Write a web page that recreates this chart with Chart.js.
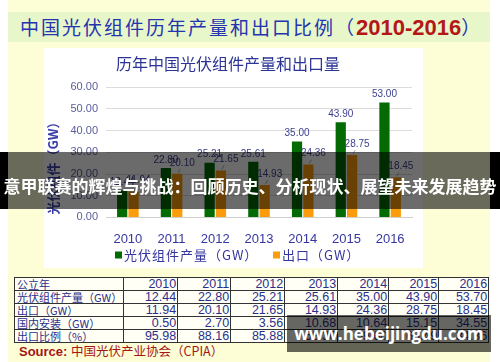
<!DOCTYPE html>
<html>
<head>
<meta charset="utf-8">
<script src="https://cdn.jsdelivr.net/npm/chart.js@4/dist/chart.umd.min.js"></script>
<style>
  body { margin: 0; width: 500px; height: 362px; overflow: hidden; background: #fff; position: relative; font-family: "Liberation Sans", Arial, sans-serif; }
  .abs { position: absolute; }
  #bg { left: 8px; top: 0; width: 482px; height: 362px; background: #fdfdd6; }
  #titlebar { left: 8px; top: 12px; width: 482px; height: 30px; background: #e8f7c9; }
  #titlebar span.cn { position: absolute; left: 12px; top: 0; line-height: 30px; font-family: "Noto Sans CJK SC"; font-size: 19px; letter-spacing: 2px; color: #2433b0; white-space: nowrap; }
  #titlebar b { font-family: "Liberation Sans", Arial; font-size: 22px; color: #b31717; letter-spacing: 0; }
  #panel { left: 44px; top: 48px; width: 379px; height: 220px; background: #fff; }
  #tbl { left: 14px; top: 277px; border-collapse: collapse; background: #fffff6; table-layout: fixed; }
  #tbl tr { height: 13px; }
  #tbl td { border: 1px solid #333; height: 12px; padding: 0 1px 0 2px; font-size: 12.5px; line-height: 11px; color: #2b2f8c; text-align: right; white-space: nowrap; overflow: hidden; box-sizing: border-box; }
  #tbl td.lab { text-align: left; font-family: "Noto Sans CJK SC"; font-size: 11px; letter-spacing: 0; }
  #source { left: 19px; top: 341px; font-size: 13px; font-weight: bold; color: #a51616; white-space: nowrap; }
  #source span { font-family: "Noto Sans CJK SC"; font-weight: normal; font-size: 12.5px; }
  #banner { left: 0; top: 152px; width: 500px; height: 57px; background: rgba(0,0,0,0.58); }
  #banner .edgeL { position: absolute; left: 0; top: 0; width: 8px; height: 57px; background: #000; }
  #banner .edgeR { position: absolute; right: 0; top: 0; width: 10px; height: 57px; background: #000; }
  #banner .txt { position: absolute; left: 0; width: 500px; top: 22px; text-align: center; font-family: "Noto Sans CJK SC"; font-weight: bold; font-size: 17px; line-height: 24px; color: #fff; white-space: nowrap; }
  #wm { left: 287px; top: 315px; width: 204px; height: 37px; background: rgba(0,0,0,0.6); color: #fff; font-family: "Open Sans"; font-weight: bold; font-size: 17px; line-height: 37px; text-align: center; }
</style>
</head>
<body>
<div id="bg" class="abs"></div>
<div id="titlebar" class="abs"><span class="cn">中国光伏组件历年产量和出口比例（<b>2010-2016</b>）</span></div>
<div id="panel" class="abs"><canvas id="myChart" width="379" height="220"></canvas></div>
<table id="tbl" class="abs"></table>
<div id="source" class="abs">Source: <span>中国光伏产业协会（CPIA）</span></div>
<div id="banner" class="abs"><div class="edgeL"></div><div class="edgeR"></div><div class="txt">意甲联赛的辉煌与挑战：回顾历史、分析现状、展望未来发展趋势</div></div>
<div id="wm" class="abs">www.hebeijingdu.com</div>

<script>
const years = ["2010", "2011", "2012", "2013", "2014", "2015", "2016"];
const production = [12.44, 22.80, 25.21, 25.61, 35.00, 43.90, 53.00];
const exports = [11.94, 20.10, 21.65, 14.93, 24.36, 28.75, 18.45];
const yTicks = [0, 10, 20, 30, 40, 50, 60];

// table rows (the table says 53.70 for 2016 production)
const tableProduction = [12.44, 22.80, 25.21, 25.61, 35.00, 43.90, 53.70];
const tableExports = [11.94, 20.10, 21.65, 14.93, 24.36, 28.75, 18.45];
const domestic = [0.50, 2.70, 3.56, 10.68, 10.64, 15.15, 34.55];
const exportRatio = [95.98, 88.16, 85.88, 58.30, 69.60, 65.49, 34.36];

function buildTable() {
  const tbl = document.getElementById("tbl");
  const widths = [108, 54, 53, 54, 53, 51, 50, 50];
  const rows = [
    ["公立年", years],
    ["光伏组件产量（GW）", tableProduction.map((v) => v.toFixed(2))],
    ["出口（GW）", tableExports.map((v) => v.toFixed(2))],
    ["国内安装（GW）", domestic.map((v) => v.toFixed(2))],
    ["出口比例（%）", exportRatio.map((v) => v.toFixed(2))],
  ];
  rows.forEach((r) => {
    const tr = document.createElement("tr");
    const th = document.createElement("td");
    th.className = "lab";
    th.textContent = r[0];
    th.style.width = widths[0] + "px";
    tr.append(th);
    r[1].forEach((v, i) => {
      const td = document.createElement("td");
      td.textContent = v;
      td.style.width = widths[i + 1] + "px";
      tr.append(td);
    });
    tbl.append(tr);
  });
}
buildTable();

const valueLabels = {
  id: "valueLabels",
  afterDatasetsDraw(chart) {
    const ctx = chart.ctx;
    ctx.save();
    ctx.font = "10px 'Liberation Sans'";
    ctx.fillStyle = "#3c3f8f";
    ctx.textAlign = "center";
    ctx.textBaseline = "middle";
    chart.data.datasets.forEach((ds, di) => {
      chart.getDatasetMeta(di).data.forEach((bar, i) => {
        const txt = ds.data[i].toFixed(2);
        if (di === 0) {
          ctx.fillText(txt, bar.x, bar.y - 8);
        } else {
          ctx.fillText(txt, bar.x + 5, bar.y - 11);
          ctx.strokeStyle = "#8a8a8a";
          ctx.lineWidth = 0.7;
          ctx.beginPath();
          ctx.moveTo(bar.x + 1, bar.y - 1);
          ctx.lineTo(bar.x + 3, bar.y - 5);
          ctx.stroke();
        }
      });
    });
    ctx.restore();
  },
};

// y axis title and legend, drawn by hand to get the spacing of the original
const extras = {
  id: "extras",
  afterDraw(chart) {
    const ctx = chart.ctx;
    ctx.save();
    ctx.translate(9, 117);
    ctx.rotate(-Math.PI / 2);
    ctx.font = "bold 13px 'Noto Sans CJK SC'";
    ctx.fillStyle = "#3a40a8";
    ctx.textAlign = "center";
    ctx.textBaseline = "middle";
    ctx.fillText("光伏组件（GW）", 0, 0);
    ctx.restore();

    const legendX = [71, 229];
    const legendY = 207;
    ctx.save();
    ctx.font = "13px 'Noto Sans CJK SC'";
    ctx.letterSpacing = "1px";
    ctx.textBaseline = "middle";
    ctx.textAlign = "left";
    chart.data.datasets.forEach((ds, i) => {
      ctx.fillStyle = ds.backgroundColor;
      ctx.fillRect(legendX[i], legendY - 3.5, 7, 7);
      ctx.fillStyle = "#3535a0";
      ctx.fillText(ds.label, legendX[i] + 9, legendY);
    });
    ctx.restore();
  },
};

const ctx = document.getElementById("myChart");
const myChart = new Chart(ctx, {
  type: "bar",
  data: {
    labels: years,
    datasets: [
      {
        label: "光伏组件产量（GW）",
        data: production,
        backgroundColor: "#046a04",
        barPercentage: 0.9,
        categoryPercentage: 0.52,
      },
      {
        label: "出口（GW）",
        data: exports,
        backgroundColor: "#fb9c0c",
        barPercentage: 0.9,
        categoryPercentage: 0.52,
      },
    ],
  },
  options: {
    responsive: false,
    animation: false,
    layout: { padding: { left: 0, right: 11, top: 0, bottom: 15 } },
    plugins: {
      title: {
        display: true,
        text: "历年中国光伏组件产量和出口量",
        color: "#2c3496",
        font: { family: "Noto Sans CJK SC", size: 16, weight: "normal" },
        padding: { top: 6, bottom: 14 },
      },
      legend: { display: false },
      tooltip: { enabled: false },
    },
    scales: {
      x: {
        grid: { display: false },
        border: { color: "#d0d0d0" },
        ticks: { color: "#3636a2", font: { family: "Liberation Sans", size: 13 }, padding: 6 },
      },
      y: {
        min: 0,
        max: 60,
        afterBuildTicks: (scale) => {
          scale.ticks = yTicks.map((v) => ({ value: v }));
        },
        afterFit: (scale) => {
          scale.width = 62;
        },
        grid: { color: "#dcdcdc", drawTicks: false },
        border: { display: false },
        ticks: {
          color: "#5a5e9a",
          font: { family: "Liberation Sans", size: 11 },
          padding: 8,
          callback: (v) => v.toFixed(2),
        },
      },
    },
  },
  plugins: [valueLabels, extras],
});
</script>
</body>
</html>
